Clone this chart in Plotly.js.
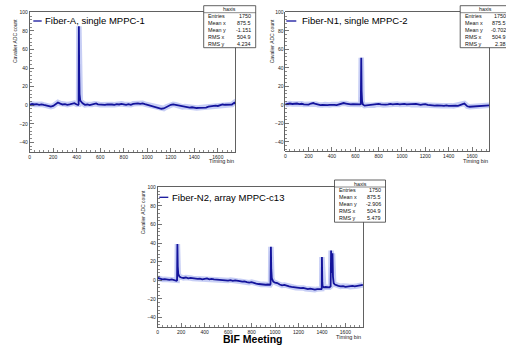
<!DOCTYPE html>
<html>
<head>
<meta charset="utf-8">
<script src="https://cdn.plot.ly/plotly-3.0.1.min.js"></script>
<style>html,body{margin:0;padding:0;background:#fff;}#chart{width:506px;height:345px;}</style>
</head>
<body>
<div id="chart"></div>
<script>
// ---------------- data ----------------
const legendA = "Fiber-A, single MPPC-1";
const legendN1 = "Fiber-N1, single MPPC-2";
const legendN2 = "Fiber-N2, array MPPC-c13";

const binsA = [0,20,40,60,80,100,120,140,160,180,200,220,240,260,280,300,320,340,360,380,400,412,416,418,421,424,430,440,450,470,490,510,530,550,565,580,600,620,640,660,680,700,720,740,760,780,800,820,840,860,880,900,920,940,960,980,1000,1020,1040,1060,1080,1100,1120,1140,1160,1180,1200,1220,1240,1260,1280,1300,1320,1340,1360,1380,1400,1420,1440,1460,1480,1500,1520,1540,1560,1580,1600,1620,1640,1660,1680,1700,1720,1740,1749];
const countsA = [0.5,1.5,0.8,1.2,0.5,1.0,0.3,-0.5,-1.0,-1.5,-0.8,1.0,3.0,1.8,0.8,1.2,0.5,1.0,2.0,2.2,0.8,0.3,1.0,85,35,12,5,3.5,2.0,0.5,0.8,0.2,0.8,1.5,2.0,1.0,0.5,0.8,0.3,1.0,0.5,0.8,0.5,1.2,0.8,1.5,1.0,0.5,1.2,0.5,1.5,1.8,2.0,1.5,2.0,1.2,0.5,-0.5,-0.8,-1.5,-2.5,-3.0,-3.8,-3.5,-2.0,-1.0,0.5,1.0,0.5,-0.5,-1.2,-1.8,-1.5,-2.0,-2.5,-2.2,-2.8,-3.0,-2.8,-2.5,-3.0,-2.5,-1.5,-1.0,-0.8,-0.5,-0.8,0.2,0.8,0.5,0.8,1.0,0.8,2.8,1.5];

const binsN1 = [0,20,40,60,80,100,120,140,160,180,200,220,240,260,280,300,320,340,360,380,400,420,440,460,480,500,520,540,560,580,600,620,640,647,651,654,658,665,680,700,720,740,760,780,800,820,840,860,880,900,920,940,960,980,1000,1020,1040,1060,1080,1100,1120,1140,1160,1180,1200,1220,1240,1260,1280,1300,1320,1340,1360,1380,1400,1420,1440,1460,1480,1500,1520,1535,1550,1560,1580,1600,1620,1640,1660,1680,1700,1720,1749];
const countsN1 = [0.5,1.2,1.5,1.0,1.3,1.5,0.8,1.2,0.5,0.8,0.3,1.5,2.0,1.0,0.2,-0.3,0.0,0.3,-0.2,0.0,0.3,0.0,-0.3,0.5,1.5,2.0,1.5,0.8,0.5,0.8,0.5,0.8,0.5,0.8,51,15,4,0.5,-0.8,-0.5,-0.8,0.0,-0.3,0.3,1.0,0.5,0.0,0.3,0.5,1.0,0.5,0.8,1.0,0.5,0.8,1.0,0.5,0.8,0.3,0.8,1.0,0.5,0.0,0.5,0.8,0.0,-0.5,-0.3,-0.8,-0.5,-1.0,-0.8,-1.0,-0.5,-1.0,-0.8,-1.2,-0.8,-1.0,-0.5,0.8,1.5,0.0,-1.5,-2.0,-1.8,-2.2,-1.5,-2.0,-1.8,-1.5,-1.2,-0.5];

const binsN2 = [0,20,40,60,80,100,120,140,160,165,168,171,175,185,200,220,240,260,280,300,320,340,360,380,400,420,440,460,480,500,520,540,560,580,600,620,640,660,680,700,720,740,760,780,800,820,840,860,880,900,920,940,958,962,965,968,973,985,1000,1020,1040,1060,1080,1100,1120,1140,1160,1180,1200,1220,1240,1260,1280,1300,1320,1340,1360,1380,1395,1398,1400,1403,1406,1415,1430,1450,1465,1474,1478,1482,1486,1490,1494,1500,1510,1525,1540,1560,1580,1600,1620,1640,1660,1680,1700,1720,1749];
const countsN2 = [2.5,1.5,1.0,1.2,0.8,0.5,1.0,0.0,-0.5,0.0,39,15,7,4,3.0,2.5,3.0,2.0,2.5,2.0,1.8,1.5,1.8,1.0,1.5,2.0,1.0,1.5,1.0,0.8,0.5,0.0,0.5,0.0,-0.3,0.2,-0.5,0.0,-0.8,-1.0,-1.5,-1.2,-2.0,-2.5,-2.0,-3.0,-3.5,-4.0,-4.5,-4.2,-4.8,-4.5,-4.8,-4.0,36,12,2,-1.5,-2.5,-3.0,-4.5,-5.5,-5.0,-6.0,-6.5,-7.0,-7.5,-8.0,-7.8,-8.5,-8.2,-9.0,-9.5,-9.0,-9.8,-10.0,-9.5,-9.8,-9.5,-9.0,25,-2,-6.5,-7.5,-7.2,-7.8,-7.5,-6.5,32,10,8,29,4,-3,-4.5,-5.5,-6.0,-6.5,-6.2,-7.0,-6.5,-6.8,-6.0,-6.5,-6.2,-5.8,-5.0];

const statTitle = "haxis";
const statNames = ["Entries","Mean x","Mean y","RMS x","RMS y"];
const statsA  = ["1750","875.5","-1.151","504.9","4.234"];
const statsN1 = ["1750","875.5","-0.702","504.9","2.38"];
const statsN2 = ["1750","875.5","-2.906","504.9","5.479"];

const xTitle = "Timing bin";
const yTitle = "Cavalier ADC count";
const footer = "BIF Meeting";

// ---------------- layout helpers ----------------
const W = 506, H = 345;
const fx = p => p / W;
const fy = p => 1 - p / H;
const FONT = "Liberation Sans, Arial, Helvetica, sans-serif";
const LINE = "#14149c";
const BAND = "rgba(95,115,225,0.35)";
const AX = "#3a3a3a";

const panels = [
  {bins: binsA, counts: countsA, label: legendA, stats: statsA,
   L: 29.7, R: 235.5, T: 12.3, B: 151.7,
   box: [203.7, 255.7, 5.7, 47.7], valR: 253.2,
   leg: {x0: 33.3, x1: 41.7, y: 21, tx: 42.7},
   yt: {x: 15, y: 41}, xt: {x: 235.5, y: 161}},
  {bins: binsN1, counts: countsN1, label: legendN1, stats: statsN1,
   L: 285.3, R: 489.5, T: 12.3, B: 151.2,
   box: [460.2, 512, 5.7, 47.7], valR: 508,
   leg: {x0: 286.3, x1: 296.3, y: 21, tx: 299.7},
   yt: {x: 272.3, y: 41}, xt: {x: 489.5, y: 160.7}},
  {bins: binsN2, counts: countsN2, label: legendN2, stats: statsN2,
   L: 157.7, R: 363.0, T: 187.3, B: 326.8,
   box: [334.5, 385.5, 180.0, 222.2], valR: 383,
   leg: {x0: 159.3, x1: 168.3, y: 197.3, tx: 170},
   yt: {x: 143.3, y: 212}, xt: {x: 363, y: 337.3}}
];

const traces = [];
const layout = {
  width: W, height: H,
  margin: {l: 0, r: 0, t: 0, b: 0, pad: 0},
  paper_bgcolor: "#fff", plot_bgcolor: "#fff",
  showlegend: false,
  font: {family: FONT, color: "#111"},
  shapes: [], annotations: []
};

panels.forEach((p, i) => {
  const n = i === 0 ? "" : String(i + 1);
  const xa = "x" + n, ya = "y" + n;
  traces.push({type: "scatter", mode: "lines", x: p.bins, y: p.counts, xaxis: xa, yaxis: ya,
    line: {color: BAND, width: 5.5}, hoverinfo: "skip"});
  traces.push({type: "scatter", mode: "lines", x: p.bins, y: p.counts, xaxis: xa, yaxis: ya,
    line: {color: LINE, width: 1.8}, name: p.label});

  layout["xaxis" + n] = {
    domain: [fx(p.L), fx(p.R)], anchor: ya, range: [0, 1750],
    tick0: 0, dtick: 200, ticks: "inside", ticklen: 4, tickwidth: 0.7, tickcolor: AX,
    minor: {dtick: 40, ticks: "inside", ticklen: 2, tickwidth: 0.6, tickcolor: AX},
    showline: true, mirror: true, linecolor: AX, linewidth: 0.8,
    showgrid: false, zeroline: false,
    tickfont: {size: 5, family: FONT, color: "#222"}
  };
  layout["yaxis" + n] = {
    domain: [fy(p.B), fy(p.T)], anchor: xa, range: [-50, 100],
    tick0: 0, dtick: 20, ticks: "inside", ticklen: 4, tickwidth: 0.7, tickcolor: AX,
    minor: {dtick: 4, ticks: "inside", ticklen: 2, tickwidth: 0.6, tickcolor: AX},
    showline: true, mirror: true, linecolor: AX, linewidth: 0.8,
    showgrid: false, zeroline: false,
    tickfont: {size: 5, family: FONT, color: "#222"}
  };

  // legend sample + text
  layout.shapes.push({type: "line", xref: "paper", yref: "paper",
    x0: fx(p.leg.x0), x1: fx(p.leg.x1), y0: fy(p.leg.y), y1: fy(p.leg.y),
    line: {color: LINE, width: 1.3}});
  layout.annotations.push({xref: "paper", yref: "paper", x: fx(p.leg.tx), y: fy(p.leg.y),
    xanchor: "left", yanchor: "middle", showarrow: false, text: p.label,
    font: {size: 9.5, family: FONT, color: "#000"}});

  // axis titles
  layout.annotations.push({xref: "paper", yref: "paper", x: fx(p.yt.x), y: fy(p.yt.y),
    xanchor: "center", yanchor: "middle", showarrow: false, textangle: -90, text: yTitle,
    font: {size: 5, family: FONT, color: "#222"}});
  layout.annotations.push({xref: "paper", yref: "paper", x: fx(p.xt.x), y: fy(p.xt.y),
    xanchor: "right", yanchor: "middle", showarrow: false, text: xTitle,
    font: {size: 5.5, family: FONT, color: "#222"}});

  // stats box
  const [bl, br, bt, bb] = p.box;
  layout.shapes.push({type: "rect", xref: "paper", yref: "paper",
    x0: fx(bl), x1: fx(br), y0: fy(bb), y1: fy(bt),
    fillcolor: "#fff", line: {color: AX, width: 0.8}, layer: "above"});
  layout.shapes.push({type: "line", xref: "paper", yref: "paper",
    x0: fx(bl), x1: fx(br), y0: fy(bt + 7), y1: fy(bt + 7),
    line: {color: AX, width: 0.6}, layer: "above"});
  layout.annotations.push({xref: "paper", yref: "paper", x: fx((bl + Math.min(br, W)) / 2 + (br > W ? 2 : 0)), y: fy(bt + 3.6),
    xanchor: "center", yanchor: "middle", showarrow: false, text: statTitle,
    font: {size: 5.3, family: FONT, color: "#111"}});
  statNames.forEach((name, k) => {
    const yy = bt + 10.3 + k * 6.9;
    layout.annotations.push({xref: "paper", yref: "paper", x: fx(bl + 2.5), y: fy(yy),
      xanchor: "left", yanchor: "middle", showarrow: false, text: name,
      font: {size: 5.4, family: FONT, color: "#111"}});
    layout.annotations.push({xref: "paper", yref: "paper", x: fx(p.valR), y: fy(yy),
      xanchor: "right", yanchor: "middle", showarrow: false, text: p.stats[k],
      font: {size: 5.4, family: FONT, color: "#111"}});
  });
});

layout.annotations.push({xref: "paper", yref: "paper", x: fx(253.3), y: fy(339.3),
  xanchor: "center", yanchor: "middle", showarrow: false, text: "<b>" + footer + "</b>",
  font: {size: 10.5, family: FONT, color: "#000"}});

Plotly.newPlot("chart", traces, layout, {displayModeBar: false, staticPlot: true});
</script>
</body>
</html>
